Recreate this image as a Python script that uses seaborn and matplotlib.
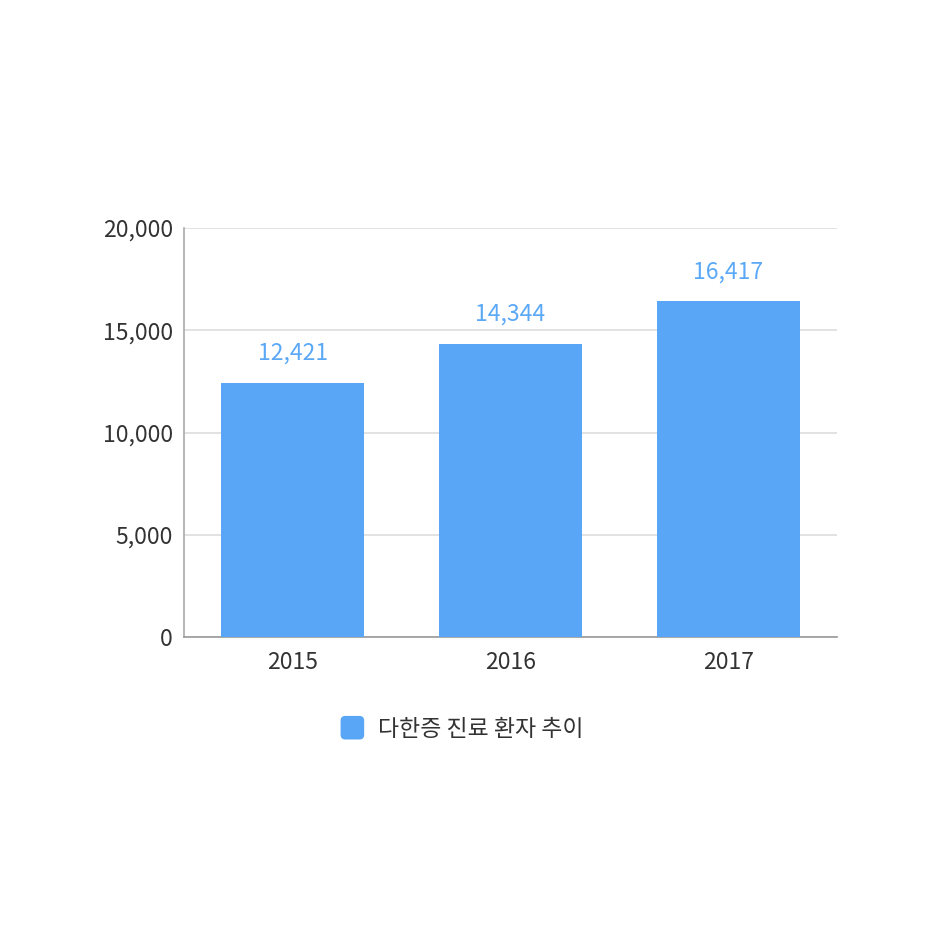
import matplotlib
matplotlib.use("Agg")
import matplotlib.pyplot as plt
import seaborn as sns
import pandas as pd
from matplotlib.patches import FancyBboxPatch, Patch
from matplotlib.legend_handler import HandlerPatch

# data
years = ["2015", "2016", "2017"]
patients = [12421, 14344, 16417]
series_name = "다한증 진료 환자 추이"
yticks = [0, 5000, 10000, 15000, 20000]

bar_color = "#58a6f5"
label_color = "#5aa8f6"

sns.set_style("white")
plt.rcParams['font.family'] = ['Noto Sans CJK KR', 'DejaVu Sans']
plt.rcParams['font.weight'] = 'light'


# rounded square for the legend key
class RoundedHandler(HandlerPatch):
    def create_artists(self, legend, orig_handle, xdescent, ydescent,
                       width, height, fontsize, trans):
        size = min(width, height) * 1.15
        x0 = -xdescent + (width - size) / 2
        y0 = -ydescent + (height - size) / 2
        p = FancyBboxPatch((x0, y0), size, size,
                           boxstyle="round,pad=0,rounding_size=%f" % (size * 0.2),
                           facecolor=orig_handle.get_facecolor(),
                           edgecolor="none", transform=trans)
        return [p]


df = pd.DataFrame({"year": years, "patients": patients})

fig = plt.figure(figsize=(9.36, 9.36), dpi=100)
ax = fig.add_axes([184/936, 1-637/936, 653/936, 409/936])

sns.barplot(data=df, x="year", y="patients", color=bar_color, width=0.656,
            saturation=1, linewidth=0, ax=ax, zorder=3)

ax.bar_label(ax.containers[0], labels=[f"{v:,}" for v in patients],
             padding=13, color=label_color, fontsize=16.5)

ax.set_ylim(0, 20000)
ax.set_xlim(-0.5, 2.5)
ax.set_yticks(yticks)
ax.set_yticklabels([f"{v:,}" for v in yticks])
ax.set_xlabel("")
ax.set_ylabel("")
ax.yaxis.grid(True, color="#dddddd", linewidth=1.2, zorder=0)
ax.set_axisbelow(True)
ax.tick_params(axis="both", length=0, labelsize=16.5, colors="#333333")
ax.tick_params(axis="x", pad=10)
ax.tick_params(axis="y", pad=8)

for side in ["top", "right"]:
    ax.spines[side].set_visible(False)
ax.spines["left"].set_color("#aaaaaa")
ax.spines["left"].set_linewidth(1.2)
ax.spines["bottom"].set_color("#999999")
ax.spines["bottom"].set_linewidth(1.2)

handle = Patch(facecolor=bar_color, edgecolor="none")
fig.legend([handle], [series_name], loc="center",
           bbox_to_anchor=(462/936, 1-729/936), frameon=False,
           fontsize=16.5, handlelength=1.0, handleheight=1.0,
           handletextpad=0.6, labelcolor="#333333",
           handler_map={Patch: RoundedHandler()})

fig.savefig("out.png", dpi=100, facecolor="white")
